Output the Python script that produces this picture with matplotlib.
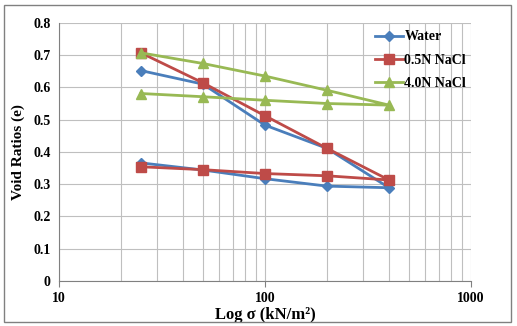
import matplotlib.pyplot as plt
from matplotlib.patches import Rectangle
from matplotlib.ticker import FixedLocator, NullFormatter, LogLocator

plt.rcParams['font.family'] = ['Liberation Serif', 'DejaVu Serif']
plt.rcParams['font.weight'] = 'bold'

# loading then unloading path
stress = [25, 50, 100, 200, 400, 200, 100, 50, 25]
water = [0.652, 0.610, 0.483, 0.411, 0.289, 0.294, 0.317, 0.344, 0.366]
nacl_05 = [0.707, 0.614, 0.512, 0.411, 0.313, 0.326, 0.333, 0.345, 0.354]
nacl_40 = [0.707, 0.674, 0.635, 0.591, 0.545, 0.550, 0.560, 0.571, 0.581]

fig = plt.figure(figsize=(5.17, 3.26), dpi=100)
ax = fig.add_axes([0.114, 0.138, 0.797, 0.792])

ax.plot(stress, water, color='#4A7EBB', marker='D', markersize=5, lw=2, label='Water')
ax.plot(stress, nacl_05, color='#BE4B48', marker='s', markersize=7, lw=2, label='0.5N NaCl')
ax.plot(stress, nacl_40, color='#98B954', marker='^', markersize=7, lw=2, label='4.0N NaCl')

ax.set_xscale('log')
ax.set_xlim(10, 1000)
ax.set_ylim(0, 0.8)
ax.set_yticks([0, 0.1, 0.2, 0.3, 0.4, 0.5, 0.6, 0.7, 0.8])
ax.set_yticklabels(['0', '0.1', '0.2', '0.3', '0.4', '0.5', '0.6', '0.7', '0.8'])
ax.xaxis.set_major_locator(FixedLocator([10, 100, 1000]))
ax.xaxis.set_minor_locator(LogLocator(base=10, subs=range(2, 10)))
ax.xaxis.set_minor_formatter(NullFormatter())
ax.set_xticklabels(['10', '100', '1000'])
ax.grid(True, which='both', color='#BFBFBF', lw=0.8)
ax.set_axisbelow(True)
for s in ['top', 'right']:
    ax.spines[s].set_visible(False)
ax.spines['left'].set_color('#808080')
ax.spines['bottom'].set_color('#808080')
ax.tick_params(axis='both', which='major', labelsize=10, length=0, pad=6)
ax.tick_params(axis='x', which='major', length=4, color='#808080', pad=4)
ax.tick_params(axis='x', which='minor', length=0)

ax.set_xlabel('Log σ (kN/m²)', fontsize=12, fontweight='bold', labelpad=1)
ax.set_ylabel('Void Ratios (e)', fontsize=11, fontweight='bold', labelpad=6)

ax.legend(loc='upper right', bbox_to_anchor=(1.012, 1.008), frameon=False, fontsize=10,
          handlelength=2.0, handletextpad=0.1, labelspacing=0.75, borderaxespad=0.3)

fig.patches.append(Rectangle((0.008, 0.012), 0.98, 0.972, transform=fig.transFigure,
                             fill=False, edgecolor='#808080', lw=1))

fig.savefig('out.png', dpi=100)
